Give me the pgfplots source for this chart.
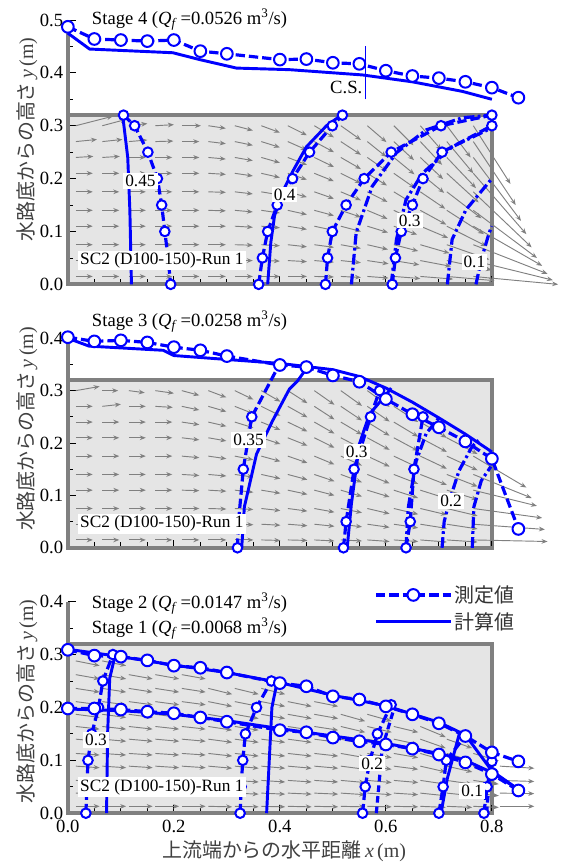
\documentclass[border=0pt]{standalone}
\usepackage{fontspec}
\setmainfont{Liberation Serif}
\newfontfamily\jp{Noto Sans CJK JP}
\usepackage{pgfplots}
\usepackage{pgfplotstable}
\pgfplotsset{compat=1.18}
\usetikzlibrary{arrows.meta}

\newcommand\fsa{\fontsize{14}{16}\selectfont}
\newcommand\fsb{\fontsize{13}{15}\selectfont}
\newcommand\fsj{\fontsize{15}{18}\selectfont}

% velocity vectors, Stage 4
\pgfplotstableread{
x y u v
0.015 0.015 0.032 0
0.015 0.045 0.032 0
0.015 0.075 0.032 0
0.015 0.11 0.032 0
0.015 0.14 0.032 0
0.015 0.175 0.032 0
0.015 0.21 0.032 0
0.015 0.24 0.033 0.002
0.015 0.27 0.040 0.004
0.015 0.30 0.070 0.018
0.065 0.015 0.032 0
0.065 0.045 0.032 0
0.065 0.075 0.032 0
0.065 0.11 0.032 0
0.065 0.14 0.032 0
0.065 0.175 0.032 0
0.065 0.21 0.032 0
0.065 0.24 0.033 0.002
0.065 0.27 0.038 0.004
0.065 0.30 0.045 0.012
0.115 0.015 0.032 0
0.115 0.045 0.032 0
0.115 0.075 0.032 0
0.115 0.11 0.032 0
0.115 0.14 0.032 0
0.115 0.175 0.032 0
0.115 0.21 0.032 0
0.115 0.24 0.032 0
0.115 0.27 0.035 0.003
0.115 0.30 0.035 0.004
0.165 0.015 0.032 0
0.165 0.045 0.032 0
0.165 0.075 0.032 0
0.165 0.11 0.032 0
0.165 0.14 0.032 0
0.165 0.175 0.032 0
0.165 0.21 0.032 0
0.165 0.24 0.032 0
0.165 0.27 0.034 0.001
0.165 0.30 0.035 0.002
0.215 0.015 0.033 0
0.215 0.045 0.033 0
0.215 0.075 0.033 0
0.215 0.11 0.033 0
0.215 0.14 0.033 0
0.215 0.175 0.033 0
0.215 0.21 0.033 0
0.215 0.24 0.033 0
0.215 0.27 0.033 0
0.215 0.30 0.036 0
0.265 0.015 0.033 0
0.265 0.045 0.033 0
0.265 0.075 0.033 0
0.265 0.11 0.033 0
0.265 0.14 0.033 -0.001
0.265 0.175 0.033 -0.001
0.265 0.21 0.033 -0.002
0.265 0.24 0.033 -0.003
0.265 0.27 0.033 -0.004
0.265 0.30 0.033 -0.005
0.315 0.015 0.034 0
0.315 0.045 0.034 0
0.315 0.075 0.034 -0.001
0.315 0.11 0.034 -0.002
0.315 0.14 0.034 -0.003
0.315 0.175 0.034 -0.004
0.315 0.21 0.034 -0.005
0.315 0.24 0.034 -0.006
0.315 0.27 0.034 -0.007
0.315 0.30 0.034 -0.009
0.365 0.015 0.035 0
0.365 0.045 0.035 -0.001
0.365 0.075 0.035 -0.002
0.365 0.11 0.035 -0.003
0.365 0.14 0.035 -0.005
0.365 0.175 0.035 -0.006
0.365 0.21 0.035 -0.008
0.365 0.24 0.035 -0.010
0.365 0.27 0.035 -0.011
0.365 0.30 0.035 -0.013
0.415 0.015 0.036 0
0.415 0.045 0.036 -0.002
0.415 0.075 0.036 -0.004
0.415 0.11 0.036 -0.006
0.415 0.14 0.036 -0.008
0.415 0.175 0.036 -0.010
0.415 0.21 0.036 -0.012
0.415 0.24 0.036 -0.014
0.415 0.27 0.036 -0.016
0.415 0.30 0.036 -0.018
0.465 0.015 0.037 -0.001
0.465 0.045 0.037 -0.003
0.465 0.075 0.037 -0.005
0.465 0.11 0.037 -0.008
0.465 0.14 0.037 -0.010
0.465 0.175 0.037 -0.013
0.465 0.21 0.037 -0.015
0.465 0.24 0.037 -0.018
0.465 0.27 0.037 -0.020
0.465 0.30 0.037 -0.022
0.515 0.015 0.038 -0.002
0.515 0.045 0.038 -0.004
0.515 0.075 0.038 -0.007
0.515 0.11 0.038 -0.010
0.515 0.14 0.038 -0.013
0.515 0.175 0.038 -0.016
0.515 0.21 0.038 -0.019
0.515 0.24 0.038 -0.022
0.515 0.27 0.038 -0.025
0.515 0.30 0.038 -0.027
0.565 0.015 0.040 -0.003
0.565 0.045 0.040 -0.006
0.565 0.075 0.039 -0.009
0.565 0.11 0.039 -0.012
0.565 0.14 0.038 -0.016
0.565 0.175 0.038 -0.019
0.565 0.21 0.037 -0.023
0.565 0.24 0.037 -0.026
0.565 0.27 0.036 -0.029
0.565 0.30 0.036 -0.031
0.615 0.015 0.050 -0.004
0.615 0.045 0.048 -0.008
0.615 0.075 0.046 -0.012
0.615 0.11 0.044 -0.016
0.615 0.14 0.042 -0.020
0.615 0.175 0.041 -0.025
0.615 0.21 0.040 -0.028
0.615 0.24 0.039 -0.032
0.615 0.27 0.038 -0.035
0.615 0.30 0.037 -0.037
0.665 0.015 0.062 -0.005
0.665 0.045 0.058 -0.011
0.665 0.075 0.055 -0.016
0.665 0.11 0.052 -0.022
0.665 0.14 0.049 -0.027
0.665 0.175 0.047 -0.032
0.665 0.21 0.045 -0.037
0.665 0.24 0.043 -0.041
0.665 0.27 0.041 -0.044
0.665 0.30 0.040 -0.046
0.715 0.015 0.090 -0.008
0.715 0.045 0.085 -0.018
0.715 0.075 0.080 -0.028
0.715 0.11 0.075 -0.038
0.715 0.14 0.070 -0.045
0.715 0.175 0.065 -0.050
0.715 0.21 0.060 -0.055
0.715 0.24 0.055 -0.058
0.715 0.27 0.050 -0.060
0.715 0.30 0.045 -0.060
0.765 0.015 0.160 -0.015
0.765 0.045 0.150 -0.037
0.765 0.075 0.140 -0.055
0.765 0.11 0.130 -0.075
0.765 0.14 0.120 -0.090
0.765 0.175 0.110 -0.105
0.765 0.21 0.100 -0.115
0.765 0.24 0.090 -0.120
0.765 0.27 0.080 -0.120
0.765 0.30 0.070 -0.110
}\vecA

% velocity vectors, Stage 3
\pgfplotstableread{
x y u v
0.015 0.015 0.032 0
0.015 0.045 0.032 0
0.015 0.075 0.032 0
0.015 0.11 0.032 0
0.015 0.14 0.032 0
0.015 0.175 0.032 0
0.015 0.21 0.032 0
0.015 0.24 0.032 0
0.015 0.27 0.032 0
0.015 0.30 0.045 0.008
0.065 0.015 0.032 0
0.065 0.045 0.032 0
0.065 0.075 0.032 0
0.065 0.11 0.032 0
0.065 0.14 0.032 0
0.065 0.175 0.032 0
0.065 0.21 0.032 0
0.065 0.24 0.032 0
0.065 0.27 0.035 0.004
0.065 0.30 0.030 0
0.115 0.015 0.032 0
0.115 0.045 0.032 0
0.115 0.075 0.032 0
0.115 0.11 0.032 0
0.115 0.14 0.032 0
0.115 0.175 0.032 0
0.115 0.21 0.032 0
0.115 0.24 0.032 0
0.115 0.27 0.032 0
0.115 0.30 0.030 -0.004
0.165 0.015 0.032 0
0.165 0.045 0.032 0
0.165 0.075 0.032 0
0.165 0.11 0.032 0
0.165 0.14 0.032 0
0.165 0.175 0.032 0
0.165 0.21 0.032 0
0.165 0.24 0.032 0
0.165 0.27 0.033 -0.002
0.165 0.30 0.035 -0.005
0.215 0.015 0.033 0
0.215 0.045 0.033 0
0.215 0.075 0.033 0
0.215 0.11 0.033 -0.001
0.215 0.14 0.033 -0.002
0.215 0.175 0.033 -0.003
0.215 0.21 0.033 -0.004
0.215 0.24 0.033 -0.005
0.215 0.27 0.033 -0.007
0.215 0.30 0.033 -0.009
0.265 0.015 0.034 0
0.265 0.045 0.034 0
0.265 0.075 0.034 -0.001
0.265 0.11 0.034 -0.002
0.265 0.14 0.034 -0.003
0.265 0.175 0.034 -0.005
0.265 0.21 0.034 -0.006
0.265 0.24 0.034 -0.008
0.265 0.27 0.034 -0.010
0.265 0.30 0.034 -0.013
0.315 0.015 0.035 0
0.315 0.045 0.035 -0.001
0.315 0.075 0.035 -0.002
0.315 0.11 0.035 -0.004
0.315 0.14 0.035 -0.005
0.315 0.175 0.035 -0.007
0.315 0.21 0.035 -0.009
0.315 0.24 0.035 -0.011
0.315 0.27 0.035 -0.014
0.315 0.30 0.035 -0.017
0.365 0.015 0.036 -0.001
0.365 0.045 0.036 -0.002
0.365 0.075 0.036 -0.004
0.365 0.11 0.036 -0.006
0.365 0.14 0.036 -0.008
0.365 0.175 0.036 -0.010
0.365 0.21 0.036 -0.012
0.365 0.24 0.036 -0.015
0.365 0.27 0.036 -0.018
0.365 0.30 0.036 -0.021
0.415 0.015 0.037 -0.001
0.415 0.045 0.037 -0.003
0.415 0.075 0.037 -0.005
0.415 0.11 0.037 -0.008
0.415 0.14 0.037 -0.010
0.415 0.175 0.037 -0.013
0.415 0.21 0.037 -0.015
0.415 0.24 0.037 -0.018
0.415 0.27 0.037 -0.021
0.415 0.30 0.037 -0.024
0.465 0.015 0.038 -0.002
0.465 0.045 0.038 -0.004
0.465 0.075 0.038 -0.007
0.465 0.11 0.038 -0.010
0.465 0.14 0.038 -0.013
0.465 0.175 0.038 -0.016
0.465 0.21 0.038 -0.019
0.465 0.24 0.038 -0.022
0.465 0.27 0.038 -0.025
0.465 0.30 0.038 -0.027
0.515 0.015 0.040 -0.002
0.515 0.045 0.040 -0.005
0.515 0.075 0.040 -0.008
0.515 0.11 0.040 -0.012
0.515 0.14 0.040 -0.015
0.515 0.175 0.040 -0.018
0.515 0.21 0.040 -0.021
0.515 0.24 0.040 -0.024
0.515 0.27 0.040 -0.027
0.515 0.30 0.040 -0.029
0.565 0.015 0.042 -0.003
0.565 0.045 0.042 -0.006
0.565 0.075 0.042 -0.010
0.565 0.11 0.042 -0.013
0.565 0.14 0.042 -0.017
0.565 0.175 0.042 -0.020
0.565 0.21 0.042 -0.023
0.565 0.24 0.042 -0.026
0.565 0.27 0.042 -0.029
0.565 0.30 0.042 -0.031
0.615 0.015 0.046 -0.003
0.615 0.045 0.046 -0.007
0.615 0.075 0.046 -0.011
0.615 0.11 0.046 -0.015
0.615 0.14 0.046 -0.018
0.615 0.175 0.046 -0.022
0.615 0.21 0.046 -0.025
0.615 0.24 0.046 -0.028
0.615 0.27 0.046 -0.030
0.665 0.015 0.050 -0.004
0.665 0.045 0.050 -0.008
0.665 0.075 0.050 -0.012
0.665 0.11 0.050 -0.016
0.665 0.14 0.050 -0.020
0.665 0.175 0.050 -0.024
0.665 0.21 0.050 -0.027
0.665 0.24 0.050 -0.030
0.715 0.015 0.058 -0.004
0.715 0.045 0.058 -0.009
0.715 0.075 0.058 -0.014
0.715 0.11 0.058 -0.018
0.715 0.14 0.058 -0.023
0.715 0.175 0.058 -0.027
0.715 0.21 0.058 -0.031
0.765 0.015 0.140 -0.003
0.765 0.045 0.135 -0.010
0.765 0.075 0.130 -0.018
0.765 0.11 0.120 -0.030
0.765 0.14 0.110 -0.045
0.765 0.175 0.100 -0.060
}\vecB

% velocity vectors, Stage 2
\pgfplotstableread{
x y u v
0.015 0.013 0.045 0
0.015 0.038 0.045 -0.001
0.015 0.062 0.045 -0.002
0.015 0.089 0.045 -0.003
0.015 0.113 0.045 -0.003
0.015 0.14 0.045 -0.004
0.015 0.164 0.045 -0.005
0.015 0.187 0.045 -0.006
0.015 0.211 0.045 -0.006
0.015 0.236 0.045 -0.007
0.015 0.262 0.045 -0.008
0.015 0.288 0.045 -0.009
0.065 0.013 0.045 0
0.065 0.038 0.045 -0.001
0.065 0.062 0.045 -0.002
0.065 0.089 0.045 -0.003
0.065 0.113 0.045 -0.003
0.065 0.14 0.045 -0.004
0.065 0.164 0.045 -0.005
0.065 0.187 0.045 -0.006
0.065 0.211 0.045 -0.006
0.065 0.236 0.045 -0.007
0.065 0.262 0.045 -0.008
0.065 0.288 0.045 -0.009
0.115 0.013 0.045 0
0.115 0.038 0.045 -0.001
0.115 0.062 0.045 -0.002
0.115 0.089 0.045 -0.003
0.115 0.113 0.045 -0.003
0.115 0.14 0.045 -0.004
0.115 0.164 0.045 -0.005
0.115 0.187 0.045 -0.006
0.115 0.211 0.045 -0.006
0.115 0.236 0.045 -0.007
0.115 0.262 0.045 -0.008
0.165 0.013 0.045 0
0.165 0.038 0.045 -0.001
0.165 0.062 0.045 -0.002
0.165 0.089 0.045 -0.003
0.165 0.113 0.045 -0.003
0.165 0.14 0.045 -0.004
0.165 0.164 0.045 -0.005
0.165 0.187 0.045 -0.006
0.165 0.211 0.045 -0.006
0.165 0.236 0.045 -0.007
0.165 0.262 0.045 -0.008
0.215 0.013 0.045 0
0.215 0.038 0.045 -0.001
0.215 0.062 0.045 -0.002
0.215 0.089 0.045 -0.003
0.215 0.113 0.045 -0.003
0.215 0.14 0.045 -0.004
0.215 0.164 0.045 -0.005
0.215 0.187 0.045 -0.006
0.215 0.211 0.045 -0.006
0.215 0.236 0.045 -0.007
0.215 0.262 0.045 -0.008
0.265 0.013 0.045 -0.001
0.265 0.038 0.045 -0.002
0.265 0.062 0.045 -0.003
0.265 0.089 0.045 -0.004
0.265 0.113 0.045 -0.005
0.265 0.14 0.045 -0.006
0.265 0.164 0.045 -0.007
0.265 0.187 0.045 -0.008
0.265 0.211 0.045 -0.009
0.265 0.236 0.045 -0.011
0.315 0.013 0.045 -0.001
0.315 0.038 0.045 -0.002
0.315 0.062 0.045 -0.003
0.315 0.089 0.045 -0.004
0.315 0.113 0.045 -0.005
0.315 0.14 0.045 -0.006
0.315 0.164 0.045 -0.007
0.315 0.187 0.045 -0.008
0.315 0.211 0.045 -0.009
0.315 0.236 0.045 -0.011
0.365 0.013 0.045 -0.001
0.365 0.038 0.045 -0.002
0.365 0.062 0.045 -0.003
0.365 0.089 0.045 -0.004
0.365 0.113 0.045 -0.005
0.365 0.14 0.045 -0.006
0.365 0.164 0.045 -0.007
0.365 0.187 0.045 -0.008
0.365 0.211 0.045 -0.009
0.365 0.236 0.045 -0.011
0.415 0.013 0.045 -0.001
0.415 0.038 0.045 -0.002
0.415 0.062 0.045 -0.003
0.415 0.089 0.045 -0.004
0.415 0.113 0.045 -0.005
0.415 0.14 0.045 -0.006
0.415 0.164 0.045 -0.007
0.415 0.187 0.045 -0.008
0.415 0.211 0.045 -0.009
0.465 0.013 0.045 -0.001
0.465 0.038 0.045 -0.002
0.465 0.062 0.045 -0.003
0.465 0.089 0.045 -0.004
0.465 0.113 0.045 -0.005
0.465 0.14 0.045 -0.006
0.465 0.164 0.045 -0.007
0.465 0.187 0.045 -0.008
0.465 0.211 0.045 -0.009
0.515 0.013 0.046 -0.001
0.515 0.038 0.046 -0.003
0.515 0.062 0.046 -0.004
0.515 0.089 0.046 -0.006
0.515 0.113 0.046 -0.008
0.515 0.14 0.046 -0.010
0.515 0.164 0.046 -0.011
0.515 0.187 0.046 -0.013
0.565 0.013 0.046 -0.001
0.565 0.038 0.046 -0.003
0.565 0.062 0.046 -0.004
0.565 0.089 0.046 -0.006
0.565 0.113 0.046 -0.008
0.565 0.14 0.046 -0.010
0.565 0.164 0.046 -0.011
0.565 0.187 0.046 -0.013
0.615 0.013 0.046 -0.001
0.615 0.038 0.046 -0.003
0.615 0.062 0.046 -0.004
0.615 0.089 0.046 -0.006
0.615 0.113 0.046 -0.008
0.615 0.14 0.046 -0.010
0.615 0.164 0.046 -0.011
0.665 0.013 0.048 -0.002
0.665 0.038 0.048 -0.005
0.665 0.062 0.048 -0.007
0.665 0.089 0.048 -0.011
0.665 0.113 0.048 -0.014
0.665 0.14 0.048 -0.017
0.665 0.164 0.048 -0.020
0.715 0.013 0.048 -0.002
0.715 0.038 0.048 -0.005
0.715 0.062 0.048 -0.007
0.715 0.089 0.048 -0.011
0.715 0.113 0.048 -0.014
0.715 0.14 0.048 -0.017
0.765 0.013 0.048 -0.002
0.765 0.038 0.048 -0.005
0.765 0.062 0.048 -0.007
0.765 0.089 0.048 -0.011
0.765 0.113 0.048 -0.014
0.815 0.013 0.065 0
0.815 0.038 0.065 -0.001
0.815 0.062 0.065 -0.002
0.815 0.089 0.065 -0.004
}\vecC

\pgfplotsset{
  panel/.style={
    x=398.4pt, clip=false, enlargelimits=false, set layers,
    anchor=south west,
    xmin=0, xmax=0.8, ymin=0,
    axis x line*=bottom, axis y line*=left,
    axis line style={draw=gray, line width=3pt},
    tick align=inside,
    xtick distance=0.2, ytick distance=0.1,
    minor x tick num=3, minor y tick num=1,
    major tick length=6pt, minor tick length=4pt,
    tick style={black, line width=0.6pt},
    tick label style={font=\fsa},
    xticklabel style={yshift=-1.5pt},
    /pgf/number format/fixed, /pgf/number format/fixed zerofill,
    /pgf/number format/precision=1, /pgf/number format/assume math mode=true,
    ylabel={{\jp 水路底からの高さ}\,\textit{y}\,(m)},
    ylabel style={font=\fsj, text=black!75, anchor=center},
  },
  wbox/.style={on layer=axis background, fill=gray!20, draw=gray, line width=3pt, line join=miter},
  quiv/.style={gray, line width=0.7pt, -{Stealth[length=4.5pt,width=3.5pt]},
    quiver={u=\thisrow{u}, v=\thisrow{v}}},
  meas/.style={blue, line width=2.4pt, dash pattern=on 7pt off 3pt, mark=*, mark size=4.4pt,
    mark options={solid, fill=white, draw=blue, line width=1.5pt}},
  meass/.style={meas, mark size=3.6pt},
  comp/.style={blue, line width=2.2pt, solid},
  compd/.style={blue, line width=2.4pt, dash pattern=on 8pt off 2.5pt on 2pt off 2.5pt},
  compe/.style={blue, line width=2.4pt, dash pattern=on 5pt off 3pt},
}
\tikzset{lab/.style={fill=white, inner sep=1.5pt, font=\fsb}}

\begin{document}
\begin{tikzpicture}

% ---------------- Stage 4
\begin{axis}[panel, at={(0pt,-213.75pt)}, y=397.5pt, ymax=0.5, xticklabels={},
  ylabel style={at={(axis description cs:-0.0965,0.547)}}]
\addplot[wbox] coordinates {(0,0) (0.8,0) (0.8,0.32) (0,0.32)} -- cycle;
\addplot[quiv] table {\vecA};
\addplot[comp] coordinates {(0.104,0.315) (0.113,0.24) (0.117,0.14) (0.12,0)};
\addplot[comp] coordinates {(0.377,0) (0.383,0.08) (0.39,0.13) (0.405,0.175) (0.425,0.215) (0.45,0.26) (0.488,0.30) (0.516,0.32)};
\addplot[compd] coordinates {(0.535,0) (0.544,0.098) (0.574,0.185) (0.62,0.249) (0.676,0.292) (0.744,0.315) (0.8,0.32)};
\addplot[compd] coordinates {(0.61,0) (0.62,0.085) (0.638,0.16) (0.669,0.21) (0.725,0.26) (0.8,0.296)};
\addplot[compd] coordinates {(0.716,0) (0.725,0.085) (0.751,0.141) (0.8,0.2)};
\addplot[compd] coordinates {(0.77,0) (0.78,0.047) (0.795,0.098) (0.8,0.11)};
\addplot[meass] coordinates {(0.105,0.32) (0.126,0.30) (0.151,0.25) (0.169,0.20) (0.177,0.15) (0.183,0.10) (0.189,0.05) (0.194,0)};
\addplot[meass] coordinates {(0.36,0) (0.367,0.05) (0.377,0.10) (0.395,0.15) (0.424,0.20) (0.456,0.25) (0.499,0.30) (0.518,0.32)};
\addplot[meass] coordinates {(0.486,0) (0.49,0.05) (0.499,0.10) (0.525,0.15) (0.559,0.20) (0.61,0.25) (0.704,0.30) (0.8,0.32)};
\addplot[meass] coordinates {(0.612,0) (0.618,0.05) (0.629,0.10) (0.65,0.15) (0.67,0.20) (0.706,0.25) (0.8,0.30)};
\addplot[comp] coordinates {(0,0.475) (0.041,0.445) (0.198,0.438) (0.249,0.425) (0.318,0.409) (0.418,0.406) (0.556,0.396) (0.65,0.383) (0.744,0.365) (0.8,0.35)};
\addplot[meas] coordinates {(0,0.487) (0.05,0.464) (0.10,0.462) (0.15,0.46) (0.20,0.462) (0.25,0.441) (0.30,0.436) (0.40,0.425) (0.45,0.426) (0.50,0.419) (0.55,0.417) (0.60,0.404) (0.65,0.394) (0.70,0.39) (0.75,0.383) (0.80,0.372) (0.85,0.353)};
\addplot[blue, line width=0.8pt] coordinates {(0.561,0.35) (0.561,0.45)};
\begin{pgfonlayer}{axis foreground}
\node[anchor=east, font=\fsa, inner sep=0pt] at (axis cs:0.556,0.372) {C.S.};
\node[anchor=west, font=\fsa, inner sep=0pt] at (axis cs:0.045,0.50) {Stage 4 (\textit{Q}\textsubscript{\textit{f}}\,=0.0526 m\textsuperscript{3}/s)};
\node[lab] at (axis cs:0.137,0.196) {0.45};
\node[lab] at (axis cs:0.409,0.17) {0.4};
\node[lab] at (axis cs:0.645,0.121) {0.3};
\node[lab] at (axis cs:0.767,0.042) {0.1};
\node[lab, anchor=west] at (axis cs:0.019,0.045) {SC2 (D100-150)-Run 1};
\end{pgfonlayer}
\end{axis}

% ---------------- Stage 3
\begin{axis}[panel, at={(0pt,-411.75pt)}, y=393.75pt, ymax=0.4, xticklabels={},
  ylabel style={at={(axis description cs:-0.0965,0.567)}}]
\addplot[wbox] coordinates {(0,0) (0.8,0) (0.8,0.32) (0,0.32)} -- cycle;
\addplot[quiv] table {\vecB};
\addplot[comp] coordinates {(0.328,0) (0.333,0.078) (0.356,0.179) (0.386,0.242) (0.418,0.303) (0.433,0.318) (0.45,0.342)};
\addplot[comp] coordinates {(0.527,0) (0.535,0.084) (0.55,0.198) (0.569,0.255) (0.601,0.293) (0.61,0.305)};
\addplot[compd] coordinates {(0.638,0) (0.642,0.075) (0.657,0.165) (0.676,0.218) (0.70,0.248)};
\addplot[compd] coordinates {(0.706,0) (0.71,0.05) (0.72,0.09) (0.738,0.147) (0.763,0.194) (0.775,0.205)};
\addplot[compd] coordinates {(0.763,0) (0.766,0.078) (0.78,0.128) (0.798,0.155)};
\addplot[meass] coordinates {(0.32,0) (0.322,0.05) (0.331,0.15) (0.347,0.25) (0.399,0.35)};
\addplot[meass] coordinates {(0.52,0) (0.525,0.05) (0.54,0.15) (0.571,0.25) (0.588,0.30)};
\addplot[meass] coordinates {(0.638,0) (0.646,0.05) (0.653,0.15) (0.67,0.25)};
\addplot[comp] coordinates {(0,0.40) (0.04,0.385) (0.18,0.377) (0.2,0.367) (0.4,0.352) (0.5,0.34) (0.55,0.327) (0.6,0.305) (0.65,0.278) (0.7,0.248) (0.75,0.217) (0.8,0.183)};
\addplot[meas] coordinates {(0,0.402) (0.05,0.394) (0.10,0.396) (0.15,0.392) (0.20,0.383) (0.25,0.377) (0.30,0.366) (0.40,0.349) (0.45,0.345) (0.50,0.329) (0.55,0.317) (0.60,0.284) (0.65,0.255) (0.70,0.23) (0.75,0.203) (0.80,0.17) (0.85,0.036)};
\begin{pgfonlayer}{axis foreground}
\node[anchor=west, font=\fsa, inner sep=0pt] at (axis cs:0.045,0.432) {Stage 3 (\textit{Q}\textsubscript{\textit{f}}\,=0.0258 m\textsuperscript{3}/s)};
\node[lab] at (axis cs:0.341,0.206) {0.35};
\node[lab] at (axis cs:0.545,0.184) {0.3};
\node[lab] at (axis cs:0.723,0.089) {0.2};
\node[lab, anchor=west] at (axis cs:0.019,0.046) {SC2 (D100-150)-Run 1};
\end{pgfonlayer}
\end{axis}

% ---------------- Stage 2 and Stage 1
\begin{axis}[panel, at={(0pt,-611.25pt)}, y=397.5pt, ymax=0.4,
  ylabel style={at={(axis description cs:-0.0965,0.528)}},
  xlabel={{\jp 上流端からの水平距離}\,\textit{x}\,(m)},
  xlabel style={font=\fsj, text=black!75, at={(axis description cs:0.51,-0.179)}, anchor=center},
  legend image code/.code={\draw[mark repeat=2,mark phase=2,#1] plot coordinates {(0pt,0pt) (28pt,0pt) (56pt,0pt)};},
  legend style={at={(axis cs:0.578,0.436)}, anchor=north west, draw=none, fill=none,
    inner sep=0pt, font=\jp\fsj, text=black!80, row sep=2pt},
  legend cell align=left]
\addlegendimage{meas}
\addlegendentry{測定値}
\addlegendimage{comp}
\addlegendentry{計算値}
\addplot[wbox] coordinates {(0,0) (0.8,0) (0.8,0.32) (0,0.32)} -- cycle;
\addplot[quiv] table {\vecC};
\addplot[comp] coordinates {(0.073,0) (0.075,0.15) (0.079,0.255) (0.089,0.298)};
\addplot[comp] coordinates {(0.375,0) (0.38,0.1) (0.385,0.2) (0.395,0.249)};
\addplot[compe] coordinates {(0.582,0) (0.588,0.066) (0.593,0.123) (0.616,0.2)};
\addplot[comp] coordinates {(0.704,0) (0.716,0.066) (0.738,0.148) (0.742,0.155)};
\addplot[compe] coordinates {(0.79,0) (0.795,0.06) (0.80,0.095)};
\addplot[meass] coordinates {(0.034,0) (0.036,0.05) (0.038,0.10) (0.045,0.15) (0.058,0.20) (0.066,0.25) (0.085,0.30)};
\addplot[meass] coordinates {(0.325,0) (0.327,0.05) (0.33,0.10) (0.335,0.15) (0.356,0.20) (0.384,0.25)};
\addplot[meass] coordinates {(0.556,0) (0.561,0.05) (0.57,0.10) (0.584,0.15) (0.61,0.205)};
\addplot[meass] coordinates {(0.70,0) (0.708,0.05) (0.714,0.10) (0.75,0.146)};
\addplot[meass] coordinates {(0.785,0) (0.791,0.05) (0.80,0.098) (0.80,0.115)};
\addplot[comp] coordinates {(0,0.31) (0.1,0.296) (0.2,0.28) (0.3,0.266) (0.4,0.247) (0.5,0.223) (0.6,0.203) (0.7,0.172) (0.75,0.148) (0.8,0.08) (0.85,0.045)};
\addplot[comp] coordinates {(0,0.197) (0.1,0.194) (0.2,0.187) (0.3,0.175) (0.4,0.16) (0.5,0.146) (0.6,0.132) (0.7,0.113) (0.75,0.1) (0.8,0.077) (0.85,0.045)};
\addplot[meas] coordinates {(0,0.309) (0.05,0.298) (0.10,0.296) (0.15,0.289) (0.20,0.279) (0.25,0.275) (0.30,0.266) (0.40,0.246) (0.45,0.24) (0.50,0.221) (0.55,0.215) (0.60,0.202) (0.65,0.187) (0.70,0.17) (0.75,0.146) (0.80,0.115) (0.85,0.098)};
\addplot[meas] coordinates {(0,0.198) (0.05,0.198) (0.10,0.196) (0.15,0.192) (0.20,0.189) (0.25,0.181) (0.30,0.173) (0.40,0.157) (0.45,0.153) (0.50,0.143) (0.55,0.136) (0.60,0.13) (0.65,0.122) (0.70,0.111) (0.75,0.096) (0.80,0.074) (0.85,0.043)};
\begin{pgfonlayer}{axis foreground}
\node[anchor=west, font=\fsa, inner sep=0pt] at (axis cs:0.045,0.396) {Stage 2 (\textit{Q}\textsubscript{\textit{f}}\,=0.0147 m\textsuperscript{3}/s)};
\node[anchor=west, font=\fsa, inner sep=0pt] at (axis cs:0.045,0.349) {Stage 1 (\textit{Q}\textsubscript{\textit{f}}\,=0.0068 m\textsuperscript{3}/s)};
\node[lab] at (axis cs:0.053,0.138) {0.3};
\node[lab] at (axis cs:0.574,0.094) {0.2};
\node[lab] at (axis cs:0.763,0.042) {0.1};
\node[lab, anchor=west] at (axis cs:0.019,0.049) {SC2 (D100-150)-Run 1};
\end{pgfonlayer}
\end{axis}
\path (-51pt,-649.5pt) rectangle (374.25pt,0pt);
\end{tikzpicture}
\end{document}
